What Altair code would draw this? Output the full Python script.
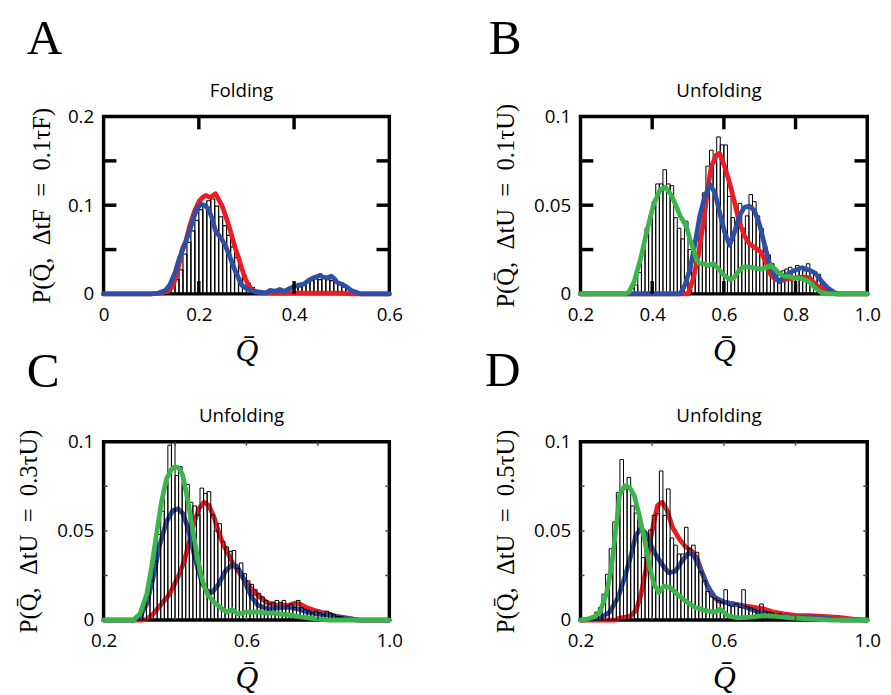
import altair as alt
import pandas as pd

RED = "#ec1c24"
BLUE = "#2e4fa3"
GREEN = "#3bb54a"
SANS = "Open Sans"
SERIF = "Liberation Serif"

# ---------------- Panel A (Folding) ----------------
A_bin_start = 16 / 120
A_bin_width = 1 / 120
A_hist = [0.004, 0.009, 0.016, 0.027, 0.045, 0.058, 0.071, 0.083, 0.095, 0.101,
          0.105, 0.107, 0.099, 0.087, 0.077, 0.066, 0.053, 0.041, 0.030, 0.020,
          0.012, 0.007, 0.004, 0.003, 0.002, 0.003, 0.002, 0.004, 0.003, 0.004,
          0.005, 0.006, 0.009, 0.008, 0.011, 0.013, 0.015, 0.017, 0.016, 0.018,
          0.016, 0.015, 0.013, 0.011, 0.008, 0.005, 0.002]
A_red_q = [0.0, 0.10, 0.12, 0.135, 0.145, 0.155, 0.166, 0.172, 0.18, 0.19, 0.2, 0.208,
           0.215, 0.222, 0.228, 0.235, 0.242, 0.249, 0.256, 0.263, 0.27, 0.277, 0.284,
           0.29, 0.297, 0.304, 0.311, 0.318, 0.33, 0.4, 0.5, 0.52, 0.6]
A_red_p = [0, 0, 0.001, 0.003, 0.008, 0.025, 0.052, 0.058, 0.075, 0.092, 0.104, 0.109,
           0.111, 0.109, 0.110, 0.113, 0.106, 0.099, 0.088, 0.077, 0.064, 0.051, 0.040,
           0.029, 0.018, 0.010, 0.005, 0.003, 0.001, 0.001, 0.001, 0, 0]
A_blue_q = [0.0, 0.10, 0.115, 0.13, 0.139, 0.15, 0.159, 0.17, 0.18, 0.19, 0.197, 0.205,
            0.212, 0.22, 0.228, 0.235, 0.242, 0.249, 0.256, 0.263, 0.27, 0.277, 0.284,
            0.29, 0.30, 0.31, 0.32, 0.33, 0.34, 0.35, 0.36, 0.37, 0.38, 0.39, 0.40,
            0.41, 0.42, 0.43, 0.44, 0.45, 0.455, 0.46, 0.47, 0.478, 0.485, 0.49, 0.50,
            0.51, 0.52, 0.53, 0.54, 0.6]
A_blue_p = [0, 0, 0.001, 0.004, 0.010, 0.024, 0.040, 0.055, 0.070, 0.087, 0.097, 0.101,
            0.100, 0.096, 0.085, 0.071, 0.066, 0.061, 0.054, 0.045, 0.035, 0.025, 0.017,
            0.010, 0.006, 0.004, 0.002, 0.002, 0.001, 0.004, 0.003, 0.005, 0.003, 0.006,
            0.008, 0.010, 0.011, 0.015, 0.018, 0.020, 0.021, 0.019, 0.018, 0.020, 0.017,
            0.013, 0.011, 0.008, 0.004, 0.002, 0, 0]

# ---------------- Panel B (Unfolding, 0.1 tau_U) ----------------
B_bin_start = 0.34
B_bin_width = 0.01
B_hist = [0.003, 0.005, 0.012, 0.025, 0.037, 0.044, 0.052, 0.062, 0.062, 0.070,
          0.062, 0.061, 0.043, 0.037, 0.031, 0.041, 0.025, 0.018, 0.019, 0.035,
          0.057, 0.072, 0.081, 0.074, 0.0885, 0.084, 0.084, 0.055, 0.043, 0.040,
          0.051, 0.037, 0.044, 0.056, 0.052, 0.044, 0.037, 0.027, 0.022, 0.017,
          0.014, 0.011, 0.013, 0.014, 0.015, 0.013, 0.016, 0.015, 0.013, 0.017,
          0.013, 0.011, 0.011, 0.005]
B_red_q = [0.2, 0.50, 0.515, 0.529, 0.543, 0.556, 0.565, 0.579, 0.588, 0.602, 0.616,
           0.63, 0.643, 0.657, 0.671, 0.69, 0.703, 0.717, 0.731, 0.745, 0.76, 0.78,
           0.80, 0.82, 0.84, 0.855, 0.875, 0.9, 0.92, 1.0]
B_red_p = [0, 0, 0.0089, 0.022, 0.0404, 0.0607, 0.0719, 0.0783, 0.0793, 0.0719, 0.0626,
           0.0515, 0.0404, 0.033, 0.0283, 0.0256, 0.0237, 0.018, 0.0107, 0.008, 0.0075,
           0.0085, 0.009, 0.0095, 0.009, 0.0052, 0.003, 0.001, 0, 0]
B_blue_q = [0.2, 0.478, 0.492, 0.506, 0.52, 0.533, 0.547, 0.561, 0.575, 0.588, 0.602,
            0.616, 0.63, 0.643, 0.657, 0.671, 0.685, 0.699, 0.712, 0.726, 0.74, 0.754,
            0.767, 0.781, 0.80, 0.818, 0.837, 0.855, 0.873, 0.89, 0.914, 1.0]
B_blue_p = [0, 0, 0.0052, 0.0144, 0.029, 0.0441, 0.055, 0.0617, 0.057, 0.046, 0.035,
            0.0274, 0.035, 0.044, 0.0487, 0.0496, 0.047, 0.0394, 0.029, 0.018, 0.0107,
            0.007, 0.0089, 0.0117, 0.0135, 0.0148, 0.0135, 0.0117, 0.007, 0.0033, 0, 0]
B_green_q = [0.2, 0.325, 0.335, 0.35, 0.368, 0.387, 0.405, 0.423, 0.437, 0.445, 0.455,
             0.468, 0.478, 0.49, 0.497, 0.505, 0.515, 0.524, 0.533, 0.543, 0.557, 0.571,
             0.585, 0.598, 0.617, 0.628, 0.64, 0.652, 0.662, 0.675, 0.69, 0.705, 0.717,
             0.731, 0.742, 0.754, 0.768, 0.782, 0.796, 0.81, 0.825, 0.837, 0.855, 0.873,
             0.89, 1.0]
B_green_p = [0, 0, 0.001, 0.007, 0.020, 0.037, 0.051, 0.059, 0.060, 0.058, 0.055,
             0.049, 0.044, 0.040, 0.037, 0.031, 0.025, 0.019, 0.017, 0.017, 0.016, 0.017,
             0.014, 0.011, 0.008, 0.009, 0.0125, 0.015, 0.0153, 0.015, 0.0144, 0.014,
             0.0148, 0.016, 0.014, 0.0117, 0.010, 0.0098, 0.009, 0.0089, 0.008, 0.007,
             0.0033, 0.0006, 0, 0]

# ---------------- Panel C (Unfolding, 0.3 tau_U) ----------------
C_bin_start = 0.29
C_bin_width = 0.01
C_hist = [0.0017, 0.0035, 0.0072, 0.0127, 0.022, 0.033, 0.048, 0.061, 0.077, 0.098,
          0.100, 0.081, 0.086, 0.077, 0.076, 0.066, 0.064, 0.059, 0.074, 0.071,
          0.072, 0.059, 0.050, 0.054, 0.044, 0.041, 0.0385, 0.039, 0.029, 0.032,
          0.026, 0.022, 0.020, 0.017, 0.015, 0.013, 0.011, 0.009, 0.010, 0.011,
          0.010, 0.011, 0.008, 0.009, 0.007, 0.011, 0.007, 0.006, 0.005, 0.004,
          0.005, 0.004, 0.003, 0.005, 0.004, 0.003, 0.002, 0.002, 0.001]
C_red_q = [0.2, 0.31, 0.321, 0.339, 0.362, 0.385, 0.408, 0.426, 0.44, 0.454, 0.467,
           0.481, 0.495, 0.509, 0.522, 0.536, 0.55, 0.564, 0.577, 0.596, 0.615, 0.633,
           0.656, 0.684, 0.70, 0.716, 0.735, 0.748, 0.771, 0.798, 0.826, 0.85, 0.88,
           0.91, 1.0]
C_red_p = [0, 0, 0.0004, 0.0035, 0.009, 0.0146, 0.0239, 0.0331, 0.0442, 0.0551, 0.0624,
           0.0661, 0.0642, 0.0578, 0.0494, 0.042, 0.0366, 0.031, 0.0274, 0.0219, 0.0173,
           0.0136, 0.010, 0.0081, 0.0085, 0.0081, 0.0095, 0.009, 0.0068, 0.005, 0.0035,
           0.002, 0.001, 0, 0]
C_blue_q = [0.2, 0.284, 0.302, 0.321, 0.339, 0.357, 0.376, 0.394, 0.408, 0.422, 0.435,
            0.449, 0.463, 0.477, 0.49, 0.504, 0.522, 0.541, 0.559, 0.573, 0.587, 0.60,
            0.615, 0.633, 0.661, 0.688, 0.716, 0.743, 0.771, 0.798, 0.835, 0.87, 0.90,
            0.92, 1.0]
C_blue_p = [0, 0, 0.0017, 0.009, 0.0239, 0.042, 0.0551, 0.0614, 0.0624, 0.0597, 0.0523,
            0.0403, 0.0293, 0.0201, 0.0164, 0.0155, 0.0201, 0.0274, 0.031, 0.0301, 0.0256,
            0.0191, 0.0127, 0.0081, 0.0063, 0.0068, 0.0072, 0.0063, 0.0044, 0.0035,
            0.0026, 0.0015, 0.0005, 0, 0]
C_green_q = [0.2, 0.284, 0.302, 0.321, 0.334, 0.348, 0.362, 0.376, 0.389, 0.40, 0.408,
             0.415, 0.422, 0.435, 0.449, 0.463, 0.477, 0.49, 0.509, 0.532, 0.545, 0.56,
             0.575, 0.587, 0.60, 0.615, 0.637, 0.655, 0.673, 0.69, 0.71, 0.73, 0.75,
             0.79, 0.83, 1.0]
C_green_p = [0, 0, 0.0035, 0.0146, 0.0293, 0.0477, 0.0661, 0.079, 0.0842, 0.086, 0.0855,
             0.084, 0.0808, 0.068, 0.0514, 0.0348, 0.0219, 0.0146, 0.010, 0.0063, 0.0045,
             0.0058, 0.0035, 0.0039, 0.0045, 0.0044, 0.0045, 0.0038, 0.004, 0.0035, 0.003,
             0.0025, 0.0018, 0.0008, 0, 0]

# ---------------- Panel D (Unfolding, 0.5 tau_U) ----------------
D_bin_start = 0.22
D_bin_width = 0.01
D_hist = [0.001, 0.002, 0.0044, 0.0071, 0.0145, 0.0256, 0.040, 0.055, 0.0716, 0.090,
          0.0735, 0.080, 0.064, 0.060, 0.056, 0.035, 0.045, 0.0505, 0.0587, 0.0597,
          0.0836, 0.0587, 0.0735, 0.046, 0.042, 0.037, 0.037, 0.052, 0.040, 0.042,
          0.038, 0.027, 0.022, 0.016, 0.013, 0.012, 0.011, 0.010, 0.017, 0.008,
          0.0075, 0.009, 0.007, 0.017, 0.0075, 0.0068, 0.006, 0.005, 0.009, 0.005,
          0.0044, 0.004, 0.003, 0.0035, 0.002, 0.002, 0.0015, 0.001, 0.001]
D_red_q = [0.2, 0.30, 0.309, 0.337, 0.355, 0.369, 0.383, 0.396, 0.405, 0.415, 0.428,
           0.442, 0.456, 0.474, 0.492, 0.511, 0.525, 0.538, 0.552, 0.566, 0.584, 0.602,
           0.63, 0.657, 0.685, 0.712, 0.74, 0.767, 0.804, 0.84, 0.877, 0.92, 0.96, 1.0]
D_red_p = [0, 0, 0.0011, 0.002, 0.0053, 0.0145, 0.029, 0.0459, 0.055, 0.0643, 0.0661,
           0.0615, 0.0523, 0.0459, 0.0413, 0.0385, 0.0348, 0.0274, 0.0201, 0.0145, 0.0108,
           0.0099, 0.009, 0.008, 0.0071, 0.0062, 0.0044, 0.0035, 0.0025, 0.0025, 0.002,
           0.0015, 0.0005, 0]
D_blue_q = [0.2, 0.23, 0.254, 0.281, 0.305, 0.323, 0.341, 0.355, 0.369, 0.383, 0.396,
            0.41, 0.428, 0.446, 0.465, 0.483, 0.501, 0.515, 0.529, 0.543, 0.557, 0.575,
            0.602, 0.63, 0.657, 0.685, 0.712, 0.749, 0.785, 0.84, 0.89, 0.93, 1.0]
D_blue_p = [0, 0.0003, 0.0011, 0.0044, 0.0127, 0.0237, 0.0366, 0.0477, 0.0514, 0.0486,
            0.0422, 0.0366, 0.0311, 0.0265, 0.0274, 0.033, 0.0376, 0.0366, 0.0311, 0.0246,
            0.0182, 0.0127, 0.0099, 0.009, 0.0075, 0.0053, 0.0035, 0.0025, 0.0016, 0.0016,
            0.001, 0, 0]
D_green_q = [0.2, 0.22, 0.24, 0.254, 0.272, 0.286, 0.30, 0.309, 0.323, 0.337, 0.35,
             0.364, 0.378, 0.392, 0.405, 0.419, 0.433, 0.451, 0.47, 0.492, 0.52, 0.547,
             0.575, 0.589, 0.611, 0.639, 0.676, 0.712, 0.749, 0.785, 0.85, 0.9, 1.0]
D_green_p = [0, 0.0005, 0.002, 0.0045, 0.0145, 0.029, 0.053, 0.070, 0.0753, 0.0744,
             0.0698, 0.0587, 0.0459, 0.0311, 0.0201, 0.0155, 0.0191, 0.0182, 0.0145,
             0.0108, 0.0071, 0.0053, 0.0044, 0.0062, 0.0025, 0.0012, 0.0016, 0.0025,
             0.002, 0.0012, 0.0005, 0, 0]


def hist_df(start, width, heights):
    lo = [start + i * width for i in range(len(heights))]
    return pd.DataFrame({"lo": lo, "hi": [v + width for v in lo], "p": heights})


def curve_df(q, p):
    return pd.DataFrame({"q": q, "p": p})


def panel(w, h, xdom, ydom, xvals, xfmt, yvals, ytitle, ytx, title, letter, ldx, ldy,
          hist, bar_sw, under, over, tick_x, tick_y, tick_len, tick_w, tick_color):
    xs = alt.Scale(domain=xdom, nice=False, zero=False)
    ys = alt.Scale(domain=ydom, nice=False, zero=False)
    xaxis = alt.Axis(values=xvals, format=xfmt, ticks=False, tickSize=0, domain=False,
                     grid=False, labelFlush=False, labelPadding=12, labelFont=SANS,
                     labelFontSize=19, labelColor="black", title="Q\u0304",
                     titleFont=SERIF, titleFontStyle="italic", titleFontSize=32,
                     titleFontWeight="normal", titleColor="black",
                     titleBaseline="alphabetic", titleY=68)
    yaxis = alt.Axis(values=yvals, format="~g", ticks=False, tickSize=0, domain=False,
                     grid=False, labelFlush=False, labelPadding=10, labelFont=SANS,
                     labelFontSize=19, labelColor="black", title=ytitle,
                     titleFont=SERIF, titleFontSize=25, titleFontWeight="normal",
                     titleColor="black", titleX=ytx, titleBaseline="middle")

    def X(f):
        return alt.X(f, type="quantitative", scale=xs, axis=xaxis)

    def Y(f):
        return alt.Y(f, type="quantitative", scale=ys, axis=yaxis)

    def line(df, color):
        return alt.Chart(df).mark_line(color=color, strokeWidth=4.8, strokeJoin="round",
                                       strokeCap="round").encode(x=X("q"), y=Y("p"))

    layers = [line(df, c) for df, c in under]
    layers.append(alt.Chart(hist).mark_rect(fillOpacity=0, stroke="black",
                                            strokeWidth=bar_sw).encode(
        x=X("lo"), x2="hi", y=Y("p"), y2=alt.datum(0)))
    layers += [line(df, c) for df, c in over]

    tx = pd.DataFrame({"q": tick_x})
    ty = pd.DataFrame({"p": tick_y})
    rule = dict(strokeWidth=tick_w, color=tick_color)
    layers.append(alt.Chart(tx).mark_rule(**rule).encode(
        x=X("q"), y=alt.value(0), y2=alt.value(tick_len)))
    layers.append(alt.Chart(tx).mark_rule(**rule).encode(
        x=X("q"), y=alt.value(h - tick_len), y2=alt.value(h)))
    layers.append(alt.Chart(ty).mark_rule(**rule).encode(
        y=Y("p"), x=alt.value(0), x2=alt.value(tick_len)))
    layers.append(alt.Chart(ty).mark_rule(**rule).encode(
        y=Y("p"), x=alt.value(w - tick_len), x2=alt.value(w)))
    # panel letter
    layers.append(alt.Chart(pd.DataFrame({"t": [letter]})).mark_text(
        font=SERIF, fontSize=50, align="left", baseline="alphabetic", color="black"
    ).encode(text="t:N", x=alt.value(ldx), y=alt.value(ldy)))
    # panel heading
    layers.append(alt.Chart(pd.DataFrame({"t": [title]})).mark_text(
        font=SANS, fontSize=19, align="center", baseline="alphabetic", color="black"
    ).encode(text="t:N", x=alt.value(w / 2 - 5), y=alt.value(-20)))

    return alt.layer(*layers).properties(width=w, height=h)


sp = "\u2002"
pA = panel(290, 180, [0, 0.6], [0, 0.2], [0, 0.2, 0.4, 0.6], "~g", [0, 0.1, 0.2],
           "P(Q\u0304," + sp + "\u0394tF" + sp + "=" + sp + "0.1\u03c4F)", -63,
           "Folding", "A", -78, -63,
           hist_df(A_bin_start, A_bin_width, A_hist), 1.2,
           [],
           [(curve_df(A_red_q, A_red_p), RED), (curve_df(A_blue_q, A_blue_p), BLUE)],
           [0.2, 0.4], [0.05, 0.1, 0.15], 13, 3.5, "black")
pB = panel(291, 180, [0.2, 1.0], [0, 0.1], [0.2, 0.4, 0.6, 0.8, 1.0], ".1f",
           [0, 0.05, 0.1],
           "P(Q\u0304," + sp + "\u0394tU" + sp + "=" + sp + "0.1\u03c4U)", -76,
           "Unfolding", "B", -93, -63,
           hist_df(B_bin_start, B_bin_width, B_hist), 1.0,
           [],
           [(curve_df(B_red_q, B_red_p), RED), (curve_df(B_blue_q, B_blue_p), BLUE),
            (curve_df(B_green_q, B_green_p), GREEN)],
           [0.4, 0.6, 0.8], [0.025, 0.05, 0.075], 13, 3.5, "black")
pC = panel(290, 181, [0.2, 1.0], [0, 0.1], [0.2, 0.6, 1.0], ".1f", [0, 0.05, 0.1],
           "P(Q\u0304," + sp + "\u0394tU" + sp + "=" + sp + "0.3\u03c4U)", -76,
           "Unfolding", "C", -78, -56,
           hist_df(C_bin_start, C_bin_width, C_hist), 1.0,
           [(curve_df(C_red_q, C_red_p), RED), (curve_df(C_blue_q, C_blue_p), BLUE)],
           [(curve_df(C_green_q, C_green_p), GREEN)],
           [0.4, 0.6, 0.8], [0.025, 0.05, 0.075], 4, 1.5, "#444444")
pD = panel(291, 181, [0.2, 1.0], [0, 0.1], [0.2, 0.6, 1.0], ".1f", [0, 0.05, 0.1],
           "P(Q\u0304," + sp + "\u0394tU" + sp + "=" + sp + "0.5\u03c4U)", -76,
           "Unfolding", "D", -97, -57,
           hist_df(D_bin_start, D_bin_width, D_hist), 1.0,
           [(curve_df(D_red_q, D_red_p), RED), (curve_df(D_blue_q, D_blue_p), BLUE)],
           [(curve_df(D_green_q, D_green_p), GREEN)],
           [0.4, 0.6, 0.8], [0.025, 0.05, 0.075], 4, 1.5, "#444444")

chart = alt.concat(pA, pB, pC, pD, columns=2,
                   spacing=alt.RowColnumber(row=150, column=194),
                   bounds="flush").properties(
    padding={"left": 7, "top": 0, "right": 0, "bottom": 0},
    background="white",
).configure_view(stroke="black", strokeWidth=3.5)

chart.save("out.html", embed_options={"renderer": "svg", "actions": False})
